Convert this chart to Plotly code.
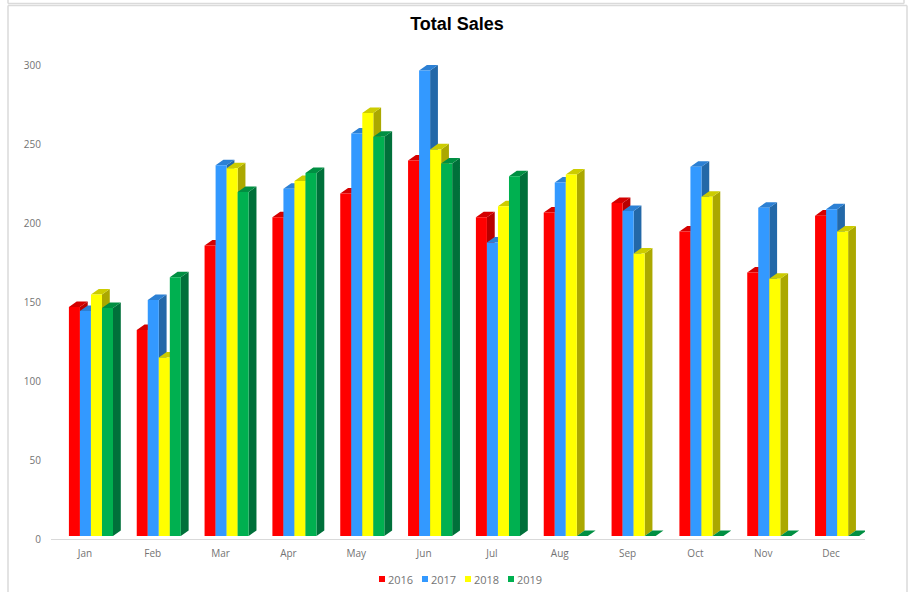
import plotly.graph_objects as go

months = ["Jan", "Feb", "Mar", "Apr", "May", "Jun", "Jul", "Aug", "Sep", "Oct", "Nov", "Dec"]
sales_2016 = [147, 132.5, 186, 204, 219, 240, 204, 207, 213, 195, 169, 205]
sales_2017 = [144.5, 151.5, 237, 222, 257, 297, 188, 226, 208, 236, 210, 209]
sales_2018 = [155, 115, 235, 227, 270, 247, 211, 231, 181, 217, 165, 195]
sales_2019 = [146.5, 166, 220, 232, 255, 238, 230, 0, 0, 0, 0, 0]
years = ["2016", "2017", "2018", "2019"]
series = [sales_2016, sales_2017, sales_2018, sales_2019]
front_colors = ["#FF0000", "#3399FF", "#FFFF00", "#00B050"]
side_colors = ["#B80000", "#2368A8", "#ABA800", "#00703A"]
top_colors = ["#D40000", "#2C80D4", "#CCCC00", "#008F42"]

W, H = 910, 592
L, R, T, B = 51, 45, 50, 53
BASE = 1.9          # bars stand slightly above the axis line
DX, DY = 0.115, 3.5  # projected depth, in axis units
BAR_W = 0.1625
START = -0.236


def polygons(faces):
    xs, ys = [], []
    for face in faces:
        xs += [p[0] for p in face] + [face[0][0], None]
        ys += [p[1] for p in face] + [face[0][1], None]
    return xs, ys


fig = go.Figure()
for s, vals in enumerate(series):
    fronts, sides, tops = [], [], []
    for i, v in enumerate(vals):
        x0 = i + START + s * BAR_W
        x1 = x0 + BAR_W
        y = max(v, BASE)
        fronts.append([(x0, BASE), (x1, BASE), (x1, y), (x0, y)])
        sides.append([(x1, BASE), (x1 + DX, BASE + DY), (x1 + DX, y + DY), (x1, y)])
        tops.append([(x0, y), (x1, y), (x1 + DX, y + DY), (x0 + DX, y + DY)])
    for faces, color in ((sides, side_colors[s]), (tops, top_colors[s]), (fronts, front_colors[s])):
        xs, ys = polygons(faces)
        fig.add_trace(go.Scatter(x=xs, y=ys, mode="lines", fill="toself", fillcolor=color,
                                 line=dict(width=0, color=color), showlegend=False,
                                 name=years[s], hoverinfo="skip", cliponaxis=False))


def px(x):
    return (x - L) / (W - L - R)


def py(y):
    return (H - B - y) / (H - T - B)


def rule(x0, y0, x1, y1):
    return dict(type="line", xref="paper", yref="paper", x0=px(x0), x1=px(x1), y0=py(y0), y1=py(y1),
                line=dict(color="#DADADA", width=1.5))


shapes = [
    rule(8, 5.5, 8, 592),
    rule(907, 5.5, 907, 592),
    rule(8, 5.5, 907, 5.5),
    rule(8, 3.5, 904, 3.5),
    rule(8, 0, 8, 3.5),
    rule(904, 0, 904, 3.5),
]

# Legend row: swatch and label for each year
annotations = []
LEG_X, LEG_STEP, LEG_Y = 379, 43, 579
for k, (name, color) in enumerate(zip(years, front_colors)):
    sx = LEG_X + k * LEG_STEP
    shapes.append(dict(type="rect", xref="paper", yref="paper", x0=px(sx), x1=px(sx + 6),
                       y0=py(LEG_Y + 3), y1=py(LEG_Y - 3), fillcolor=color, line=dict(width=0)))
    annotations.append(dict(text=name, xref="paper", yref="paper", x=px(sx + 7), y=py(LEG_Y),
                            xanchor="left", yanchor="middle", showarrow=False,
                            font=dict(family="Open Sans", size=11, color="#737373")))

fig.update_layout(
    width=W, height=H, margin=dict(l=L, r=R, t=T, b=B, autoexpand=False),
    paper_bgcolor="white", plot_bgcolor="white", showlegend=False,
    title=dict(text="<b>Total Sales</b>", x=457 / W, xanchor="center", y=1 - 24 / H, yanchor="middle",
               font=dict(family="Liberation Sans", size=18, color="black")),
    xaxis=dict(range=[-0.5, 11.5], tickmode="array", tickvals=list(range(12)), ticktext=months,
               showgrid=False, zeroline=False, showline=True, linecolor="#D9D9D9", linewidth=1,
               ticks="outside", ticklen=5, tickcolor="rgba(0,0,0,0)",
               tickfont=dict(family="Open Sans", size=10, color="#737373"), fixedrange=True),
    yaxis=dict(range=[0, 310], tickmode="array", tickvals=[0, 50, 100, 150, 200, 250, 300],
               showgrid=False, zeroline=False, showline=False,
               ticks="outside", ticklen=7, tickcolor="rgba(0,0,0,0)",
               tickfont=dict(family="Open Sans", size=10, color="#737373"), fixedrange=True),
    shapes=shapes, annotations=annotations,
)

fig.write_html("out.html", config={"displayModeBar": False},
               post_script="document.body.style.margin='0';document.body.style.overflow='hidden';")
